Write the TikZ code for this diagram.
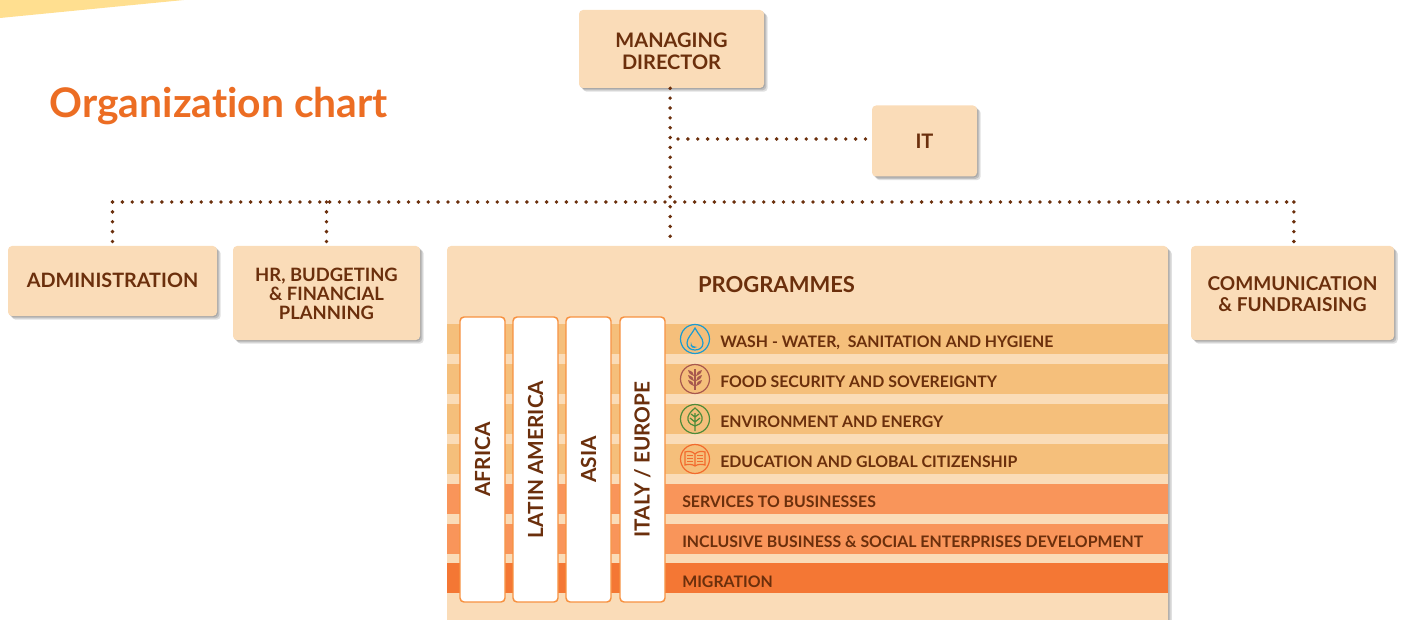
\documentclass[tikz,border=0pt]{standalone}
\usepackage{xcolor}
\usepackage{fontspec}
\setmainfont[Ligatures=NoCommon]{Lato}
\usepackage{tikz}
\usetikzlibrary{shadows}

\definecolor{boxfill}{HTML}{FADCB8}
\definecolor{darktext}{HTML}{6B2F0C}
\definecolor{titleorange}{HTML}{EC6D23}
\definecolor{cornerfill}{HTML}{FFDF90}
\definecolor{bandlight}{HTML}{F5BF7B}
\definecolor{bandmid}{HTML}{F9955A}
\definecolor{banddark}{HTML}{F47734}
\definecolor{colborder}{HTML}{F79140}
\definecolor{iconblue}{HTML}{1B9BD1}
\definecolor{iconbrown}{HTML}{A8584E}
\definecolor{icongreen}{HTML}{4E8B3A}
\definecolor{iconorange}{HTML}{F26B2E}

\newcommand{\boldsize}[1]{\fontsize{#1}{16}\selectfont\bfseries}
\newcommand{\topgap}[1]{\rule{0pt}{#1}}

\tikzset{
	softshadow/.style={
		drop shadow={shadow xshift=0.8pt, shadow yshift=-0.8pt, fill=black, opacity=0.12},
		drop shadow={shadow xshift=1.8pt, shadow yshift=-1.8pt, fill=black, opacity=0.14},
		drop shadow={shadow xshift=2.8pt, shadow yshift=-2.8pt, fill=black, opacity=0.12}},
	unitbox/.style={softshadow, fill=boxfill, rounded corners=3pt, inner sep=0pt, align=center, text=darktext,
		font=\boldsize{15}},
	band/.style={inner sep=0pt, minimum width=721*0.75pt, minimum height=22.5pt, anchor=west},
	bandtext/.style={inner sep=0pt, anchor=west, text=darktext, font=\boldsize{11.9}},
	regioncol/.style={draw=colborder, line width=1.1pt, fill=white, rounded corners=3pt, rotate=90, inner sep=0pt,
		minimum width=285*0.75pt, minimum height=45*0.75pt, text=darktext,
		font=\boldsize{15.6}},
	dotline/.style={darktext, line width=2.9pt, line cap=round, dash pattern=on 0pt off 7.4pt},
	iconring/.style={line width=0.9pt},
	pics/dropicon/.style={code={
		\draw[iconblue, iconring] (0,0) circle (14.5);
		\draw[iconblue, iconring] (0,-11) .. controls (-3,-5) and (-8,-1) .. (-8,4) .. controls (-8,9) and (-4,11) .. (0,11)
			.. controls (4,11) and (8,9) .. (8,4) .. controls (8,-1) and (3,-5) .. (0,-11) -- cycle;
		\fill[iconblue] (-4,3) .. controls (-4,7) and (-1,8) .. (2,8) .. controls (-1,10) and (-6,9) .. (-4,3) -- cycle;
	}},
	pics/wheaticon/.style={code={
		\draw[iconbrown, iconring] (0,0) circle (14.5);
		\draw[iconbrown, line width=1.2pt] (0,-10) -- (0,11);
		\foreach \yy in {-5,0,5} {
			\fill[iconbrown] (-1,\yy+2) .. controls (-6,\yy) and (-7,\yy-2) .. (-7,\yy-4) .. controls (-3,\yy-3) and (-1,\yy-1) .. (-1,\yy+2) -- cycle;
			\fill[iconbrown] (1,\yy+2) .. controls (6,\yy) and (7,\yy-2) .. (7,\yy-4) .. controls (3,\yy-3) and (1,\yy-1) .. (1,\yy+2) -- cycle;
		}
	}},
	pics/leaficon/.style={code={
		\draw[icongreen, iconring] (0,0) circle (14.5);
		\draw[icongreen, iconring] (0,-11) .. controls (-5,-7) and (-8,-3) .. (-7,1) .. controls (-6,5) and (-3,6) .. (0,7)
			.. controls (3,6) and (6,5) .. (7,1) .. controls (8,-3) and (5,-7) .. (0,-11) -- cycle;
		\draw[icongreen, iconring] (0,-6) -- (0,12) (0,-2) -- (-4,-5) (0,-2) -- (4,-5) (0,3) -- (-5,-1) (0,3) -- (5,-1);
	}},
	pics/bookicon/.style={code={
		\draw[iconorange, iconring] (0,0) circle (14.5);
		\draw[iconorange, iconring] (0,-5) .. controls (-3,-8) and (-7,-8) .. (-10,-7) -- (-10,6) .. controls (-7,5) and (-3,5) .. (0,7)
			.. controls (3,5) and (7,5) .. (10,6) -- (10,-7) .. controls (7,-8) and (3,-8) .. (0,-5) -- cycle (0,-5) -- (0,7);
		\foreach \yy in {-4,-1,2} {
			\draw[iconorange, line width=0.5pt] (-8,\yy) -- (-2,\yy) (2,\yy) -- (8,\yy);
		}
	}}
}

\begin{document}
\begin{tikzpicture}[x=0.75pt, y=-0.75pt]
	\useasboundingbox (0,0) rectangle (1402,620);
	\fill[cornerfill] (0,0) -- (184,0) -- (0,18) -- cycle;
	\node[anchor=west, inner sep=0pt, text=titleorange, font=\boldsize{30.6}] (title) at (49.5,106) {Organization chart};

	% top units
	\node[unitbox, minimum width=185*0.75pt, minimum height=78*0.75pt] (director) at (671.5,49) {\topgap{13.8pt}MANAGING\\[0.5pt]DIRECTOR};
	\node[unitbox, minimum width=105*0.75pt, minimum height=71*0.75pt] (it) at (924.5,141) {IT};

	% second row
	\node[unitbox, font=\boldsize{14.85}, minimum width=209*0.75pt, minimum height=70*0.75pt] (admin) at (112.5,281) {\rule[-1.5pt]{0pt}{1pt}ADMINISTRATION};
	\node[unitbox, font=\boldsize{13.8}, minimum width=187*0.75pt, minimum height=94*0.75pt] (hr) at (326.5,293) {\topgap{11.5pt}HR, BUDGETING\\[-2pt]\&\ FINANCIAL\\[-2pt]PLANNING};
	\node[unitbox, minimum width=721*0.75pt, minimum height=394*0.75pt] (prog) at (807.5,443) {};
	\node[unitbox, font=\boldsize{14.3}, minimum width=203*0.75pt, minimum height=94*0.75pt] (comm) at (1292.5,293) {\topgap{12pt}COMMUNICATION\\[0pt]\&\ FUNDRAISING};
	\node[inner sep=0pt, text=darktext, font=\boldsize{16.5}] (progtitle) at (776.5,285) {PROGRAMMES};

	% connectors
	\coordinate (itjoin) at (678,139);
	\coordinate (busleft) at (admin.north |- 0,202);
	\coordinate (busright) at ([xshift=1pt]comm.north |- 0,202);
	\draw[dotline] ([xshift=-1pt]director.south) -- ([xshift=-1pt]director.south |- prog.north);
	\draw[dotline] (itjoin) -- (it.west |- itjoin);
	\draw[dotline] (busleft) -- (busright);
	\draw[dotline] (busleft) -- (admin.north);
	\draw[dotline] (hr.north |- busleft) -- (hr.north);
	\draw[dotline] (busright) -- (busright |- comm.north);

	% thematic bands
	\node[band, fill=bandlight] (b1) at (447,339) {};
	\node[band, fill=bandlight] (b2) at (447,379) {};
	\node[band, fill=bandlight] (b3) at (447,419) {};
	\node[band, fill=bandlight] (b4) at (447,459) {};
	\node[band, fill=bandmid] (b5) at (447,499) {};
	\node[band, fill=bandmid] (b6) at (447,539) {};
	\node[band, fill=banddark] (b7) at (447,578) {};

	\node[bandtext] (t1) at (720,343) {WASH - WATER,\ \ SANITATION AND HYGIENE};
	\node[bandtext] (t2) at (720,382) {FOOD SECURITY AND SOVEREIGNTY};
	\node[bandtext] (t3) at (720,422) {ENVIRONMENT AND ENERGY};
	\node[bandtext] (t4) at (720,462) {EDUCATION AND GLOBAL CITIZENSHIP};
	\node[bandtext] (t5) at (682,502) {SERVICES TO BUSINESSES};
	\node[bandtext] (t6) at (682,542) {INCLUSIVE BUSINESS \&\ SOCIAL ENTERPRISES DEVELOPMENT};
	\node[bandtext] (t7) at (682,582) {MIGRATION};

	\pic at (695,339) {dropicon};
	\pic at (695,379) {wheaticon};
	\pic at (695,419) {leaficon};
	\pic at (695,459) {bookicon};

	% regions
	\node[regioncol] (africa) at (482.5,459.5) {AFRICA};
	\node[regioncol] (latam) at (535.5,459.5) {LATIN AMERICA};
	\node[regioncol] (asia) at (588.5,459.5) {ASIA};
	\node[regioncol] (italy) at (642.5,459.5) {ITALY / EUROPE};
\end{tikzpicture}
\end{document}
